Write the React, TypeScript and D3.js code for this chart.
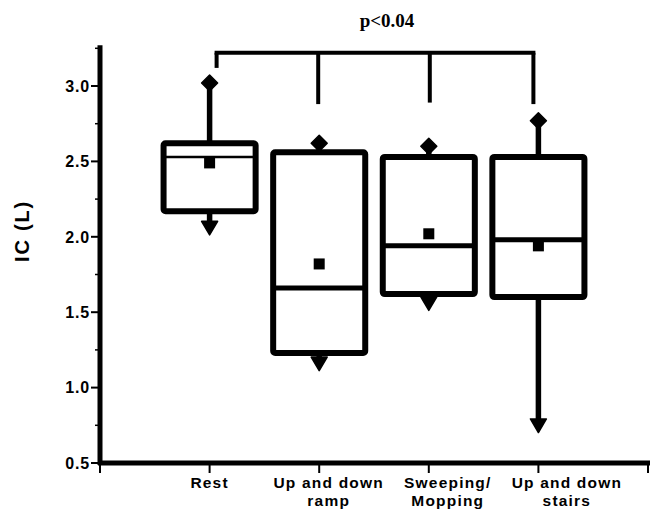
import React from "react";
import * as d3 from "d3";

const categories = ["Rest", "Up and down ramp", "Sweeping/ Mopping", "Up and down stairs"];
const labelLines = [["Rest"], ["Up and down", "ramp"], ["Sweeping/", "Mopping"], ["Up and down", "stairs"]];
const q1 = [2.17, 1.23, 1.62, 1.6];
const medians = [2.53, 1.66, 1.94, 1.98];
const q3 = [2.62, 2.56, 2.53, 2.53];
const means = [2.49, 1.82, 2.02, 1.94];
const maxs = [3.02, 2.62, 2.6, 2.77];
const mins = [2.06, 1.16, 1.56, 0.75];
const yTicks = [0.5, 1.0, 1.5, 2.0, 2.5, 3.0];
const pText = "p<0.04";

const W = 656, H = 511;

export default function App() {
  const y = d3.scaleLinear().domain([0.5, 3.0]).range([463, 86]);
  const x = d3.scaleLinear().domain([0, 5]).range([100, 648]);
  const step = x(1) - x(0);
  const bw = step * 0.84;
  const minorTicks = d3.range(0.75, 3.26, 0.5);
  const xTickIdx = [0, 1, 2, 3, 4, 5];
  const diamond = (cx: number, cy: number, r: number) =>
    `M${cx},${cy - r}L${cx + r},${cy}L${cx},${cy + r}L${cx - r},${cy}Z`;
  const tri = (cx: number, cy: number, r: number) =>
    `M${cx - r},${cy - r * 0.8}L${cx + r},${cy - r * 0.8}L${cx},${cy + r * 0.9}Z`;

  const bracketY = y(3.22);
  const bx = [x(1) + 7, x(2) - 1, x(3) + 1, x(4) - 5];
  const dropEnd = [y(3.12), y(2.88), y(2.89), y(2.88)];

  return (
    <svg width={W} height={H} style={{ position: "absolute", left: 0, top: 0, background: "#fff" }}>
      <rect width={W} height={H} fill="#fff" />
      <text x={387} y={27} textAnchor="middle" fontFamily="'Liberation Serif', 'Times New Roman', serif" fontWeight="bold" fontSize={19}>
        {pText}
      </text>
      <line x1={bx[0] - 2} x2={bx[3] + 2} y1={bracketY} y2={bracketY} stroke="#000" strokeWidth={4} />
      {bx.map((b, i) => (
        <line key={i} x1={b} x2={b} y1={bracketY} y2={dropEnd[i]} stroke="#000" strokeWidth={4} />
      ))}

      <line x1={100} x2={100} y1={y(3.27)} y2={y(0.5) + 2} stroke="#000" strokeWidth={5} />
      {yTicks.map((t) => (
        <g key={t}>
          <line x1={91} x2={100} y1={y(t)} y2={y(t)} stroke="#000" strokeWidth={2} />
          <text x={90} y={y(t)} dy="0.36em" textAnchor="end" fontFamily="Arial, 'Liberation Sans', sans-serif" fontWeight="bold" fontSize={16} letterSpacing={0.8}>
            {t.toFixed(1)}
          </text>
        </g>
      ))}
      {minorTicks.map((t) => (
        <line key={t} x1={95} x2={100} y1={y(t)} y2={y(t)} stroke="#000" strokeWidth={1.5} />
      ))}
      <text
        transform={`translate(29,231) rotate(-90)`}
        textAnchor="middle"
        fontFamily="Arial, 'Liberation Sans', sans-serif"
        fontWeight="bold"
        fontSize={20}
        letterSpacing={1.8}
      >
        IC (L)
      </text>

      <line x1={98} x2={650} y1={y(0.5)} y2={y(0.5)} stroke="#000" strokeWidth={5} />
      {xTickIdx.map((i) => (
        <line key={i} x1={x(i)} x2={x(i)} y1={y(0.5)} y2={y(0.5) + 10} stroke="#000" strokeWidth={2} />
      ))}
      {labelLines.map((lines, i) =>
        lines.map((l, j) => (
          <text
            key={i + "-" + j}
            x={x(i + 1) + i * 9.5}
            y={488 + j * 18}
            textAnchor="middle"
            fontFamily="Arial, 'Liberation Sans', sans-serif"
            fontWeight="bold"
            fontSize={15.5}
            letterSpacing={1.2}
          >
            {l}
          </text>
        ))
      )}

      {categories.map((c, i) => {
        const cx = x(i + 1);
        return (
          <g key={c}>
            <line x1={cx} x2={cx} y1={y(q3[i])} y2={y(maxs[i])} stroke="#000" strokeWidth={5.5} />
            <line x1={cx} x2={cx} y1={y(q1[i])} y2={y(mins[i])} stroke="#000" strokeWidth={5.5} />
            <rect
              x={cx - bw / 2}
              y={y(q3[i])}
              width={bw}
              height={y(q1[i]) - y(q3[i])}
              fill="#fff"
              stroke="#000"
              strokeWidth={6}
              rx={2}
              strokeLinejoin="round"
            />
            <line x1={cx - bw / 2} x2={cx + bw / 2} y1={y(medians[i])} y2={y(medians[i])} stroke="#000" strokeWidth={i === 0 ? 2.5 : 5} />
            <rect x={cx - 5.5} y={y(means[i]) - 5.5} width={11} height={11} fill="#000" />
            <path d={diamond(cx, y(maxs[i]), 8)} fill="#000" stroke="#000" strokeWidth={1.5} strokeLinejoin="round" />
            <path d={tri(cx, y(mins[i]), 8)} fill="#000" stroke="#000" strokeWidth={1.5} strokeLinejoin="round" />
          </g>
        );
      })}
    </svg>
  );
}
